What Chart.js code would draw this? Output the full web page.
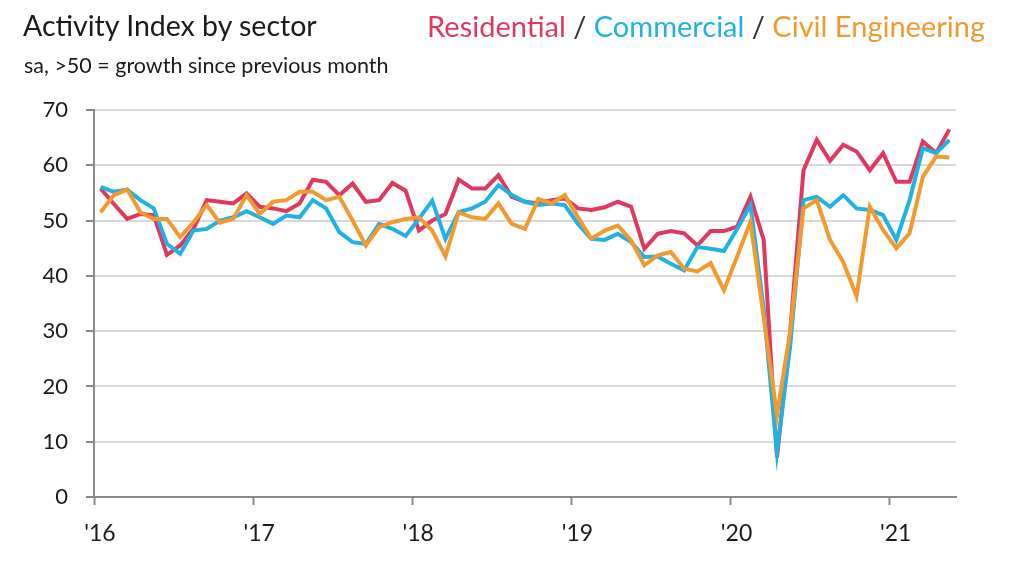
<!DOCTYPE html>
<html>
<head>
<meta charset="utf-8">
<script src="https://cdn.jsdelivr.net/npm/chart.js@4/dist/chart.umd.min.js"></script>
<style>
  html, body { margin: 0; padding: 0; background: #fff; }
  #wrap { position: relative; width: 1024px; height: 566px; overflow: hidden; }
  canvas { position: absolute; left: 0; top: 0; }
  .t { position: absolute; font-family: Lato, "Open Sans", sans-serif; color: #1a1a1a; white-space: nowrap; line-height: normal; }
  #title { left: 23px; top: 8px; font-size: 28.5px; }
  #sub { left: 24px; top: 52px; font-size: 21.5px; }
  #legend { right: 39px; top: 8px; font-size: 29px; }
  .res { color: #e0385e; } .com { color: #1fb2e3; } .civ { color: #f09b32; } .sl { color: #333; }
</style>
</head>
<body>
<div id="wrap">
  <canvas id="c" width="1024" height="566"></canvas>
  <div class="t" id="title">Activity Index by sector</div>
  <div class="t" id="sub">sa, &gt;50 = growth since previous month</div>
  <div class="t" id="legend"><span class="res">Residential</span><span class="sl"> / </span><span class="com">Commercial</span><span class="sl"> / </span><span class="civ">Civil Engineering</span></div>
</div>
<script>
// Months Jan 2016 .. May 2021 (65 monthly readings)
const startYear = 2016;
const monthCount = 65;
const yearTicks = ["'16", "'17", "'18", "'19", "'20", "'21"];

const residential = [
  55.8, 53.0, 50.3, 51.2, 51.0, 43.8, 45.5, 48.5, 53.7, 53.4, 53.1, 54.9,
  52.5, 52.2, 51.7, 53.1, 57.4, 57.0, 54.6, 56.7, 53.4, 53.7, 56.8, 55.4,
  48.2, 50.0, 51.2, 57.4, 55.8, 55.8, 58.2, 54.3, 53.4, 53.1, 53.7, 54.0,
  52.2, 51.9, 52.4, 53.4, 52.5, 44.9, 47.6, 48.1, 47.7, 45.5, 48.1, 48.1,
  48.9, 54.3, 46.5, 7.2, 30.0, 59.1, 64.6, 60.8, 63.7, 62.5, 59.1, 62.2,
  57.0, 57.0, 64.3, 62.2, 66.5
];
const commercial = [
  56.1, 55.2, 55.6, 53.7, 52.2, 45.8, 44.0, 48.2, 48.5, 50.0, 50.6, 51.7,
  50.6, 49.4, 50.9, 50.6, 53.7, 52.2, 47.9, 46.1, 45.8, 49.4, 48.5, 47.2,
  50.3, 53.6, 46.7, 51.5, 52.2, 53.4, 56.4, 54.6, 53.4, 52.8, 53.1, 52.8,
  49.4, 46.7, 46.5, 47.6, 46.1, 43.4, 43.5, 42.2, 41.0, 45.2, 44.9, 44.5,
  48.5, 52.8, 34.0, 8.0, 27.5, 53.7, 54.3, 52.5, 54.6, 52.2, 51.9, 51.0,
  46.5, 53.7, 63.1, 62.2, 64.6
];
const civilEngineering = [
  51.5, 54.6, 55.6, 51.5, 50.3, 50.3, 47.0, 49.7, 52.8, 49.6, 50.3, 54.6,
  51.2, 53.4, 53.7, 55.2, 55.2, 53.7, 54.3, 50.0, 45.5, 48.8, 49.7, 50.3,
  50.6, 48.2, 43.5, 51.5, 50.6, 50.3, 53.1, 49.4, 48.5, 53.9, 53.1, 54.6,
  50.6, 46.7, 48.2, 49.1, 46.4, 41.9, 43.7, 44.3, 41.3, 40.8, 42.3, 37.4,
  43.5, 49.8, 32.5, 14.8, 30.0, 52.2, 53.7, 46.5, 42.5, 36.3, 52.5, 48.3,
  45.0, 47.7, 57.9, 61.6, 61.4
];

const toPoints = arr => arr.map((v, i) => ({ x: i + 0.5, y: v }));
const FONT = "Lato, 'Open Sans', sans-serif";

const line = (label, data, color, order) => ({
  label, data: toPoints(data), borderColor: color, backgroundColor: color,
  borderWidth: 4, pointRadius: 0, tension: 0, order,
  borderJoinStyle: 'miter', borderCapStyle: 'butt'
});

new Chart(document.getElementById('c'), {
  type: 'line',
  data: {
    datasets: [
      line('Residential', residential, '#e0385e', 2),
      line('Commercial', commercial, '#1fb2e3', 1),
      line('Civil Engineering', civilEngineering, '#f29a2e', 0)
    ]
  },
  options: {
    responsive: false,
    animation: false,
    devicePixelRatio: 1,
    layout: { padding: { left: 0, right: 68, top: 110, bottom: 0 } },
    plugins: { legend: { display: false }, tooltip: { enabled: false }, title: { display: false } },
    scales: {
      x: {
        type: 'linear', min: 0, max: monthCount,
        afterBuildTicks: s => { s.ticks = yearTicks.map((t, k) => ({ value: k * 12 })); },
        afterFit: s => { s.height = 69; },
        ticks: {
          callback: (v) => yearTicks[Math.round(v / 12)] ?? '',
          font: { family: FONT, size: 23 }, color: '#1a1a1a', padding: 15, maxRotation: 0,
          labelOffset: 6
        },
        grid: { drawOnChartArea: false, drawTicks: true, tickLength: 8, tickColor: '#8a8a8a', tickWidth: 2 },
        border: { color: '#8a8a8a', width: 2 }
      },
      y: {
        min: 0, max: 70,
        afterFit: s => { s.width = 94; },
        ticks: { stepSize: 10, font: { family: FONT, size: 22 }, color: '#1a1a1a', padding: 18 },
        grid: { color: '#dadada', lineWidth: 2, tickLength: 8, tickColor: '#8a8a8a', tickWidth: 2 },
        border: { color: '#8a8a8a', width: 2 }
      }
    }
  }
});
</script>
</body>
</html>
